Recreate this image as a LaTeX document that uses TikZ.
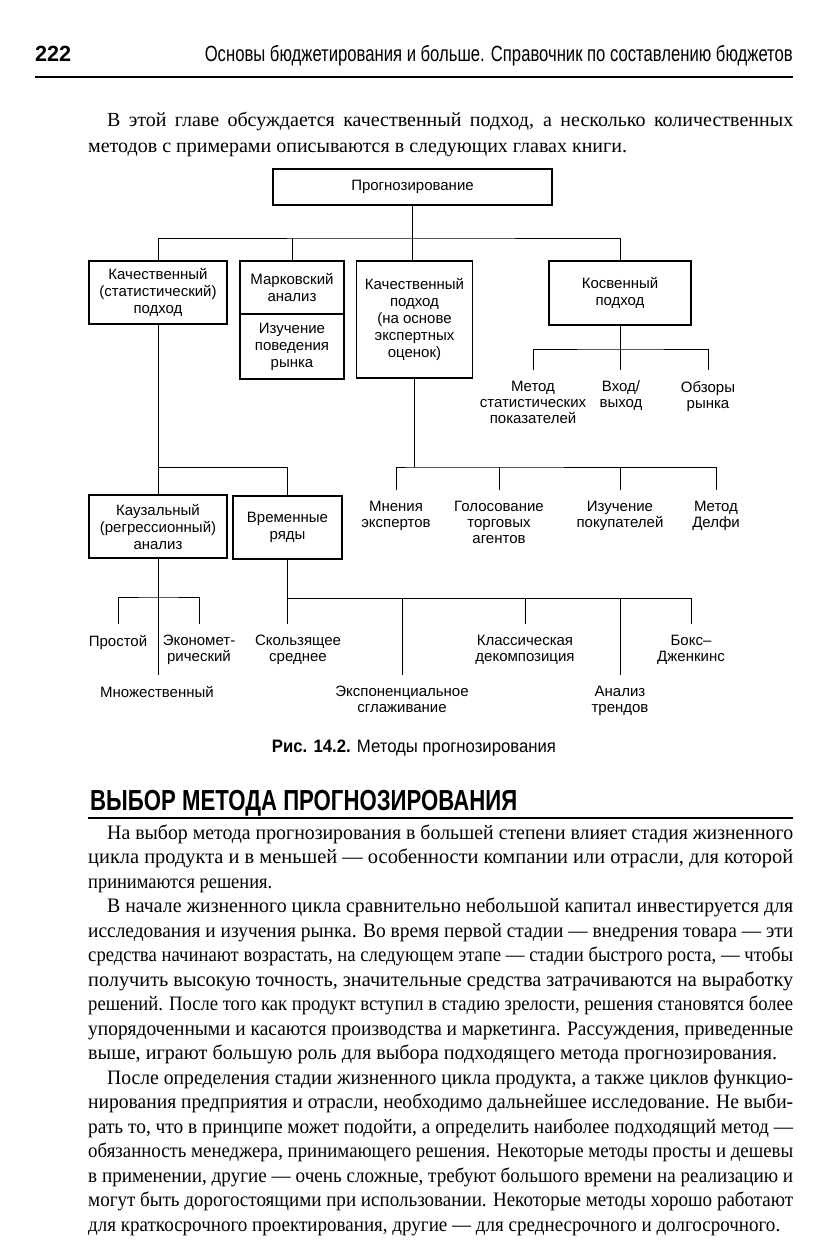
\documentclass[tikz,border=0pt]{standalone}
\usepackage{fontspec}
\usepackage{graphicx}
\setmainfont{Liberation Serif}
\setsansfont{Liberation Sans}
\usetikzlibrary{positioning}

\newcommand{\diagfont}{\sffamily\fontsize{15}{17}\selectfont}
\newcommand{\leaffont}{\sffamily\fontsize{15}{16}\selectfont}
\newcommand{\bodyfont}{\rmfamily\fontsize{20.5}{24}\selectfont}
\newsavebox{\linebox}
\newcommand{\fullline}[2]{\sbox{\linebox}{#2}\ifdim\wd\linebox>#1\relax\resizebox{#1}{\height}{\usebox{\linebox}}\else\makebox[#1][s]{#2}\fi}
\newcommand{\lastline}[2]{\sbox{\linebox}{#2}\ifdim\wd\linebox>#1\relax\resizebox{#1}{\height}{\usebox{\linebox}}\else\usebox{\linebox}\fi}
\newcommand{\squeezeline}[2]{\resizebox{#1}{\height}{#2}}

\begin{document}
\begin{tikzpicture}[
    x=1pt, y=-1pt,
    box/.style={draw, line width=1.1pt, align=center, inner sep=0pt, outer sep=0pt, font=\diagfont},
    leaf/.style={align=center, font=\leaffont, inner sep=0pt, outer ysep=11pt, anchor=north},
    link/.style={line width=1pt},
    txt/.style={anchor=base west, inner sep=0pt, font=\bodyfont}
]
\fill[white] (0,0) rectangle (839,1253);

\node[anchor=base west, inner sep=0pt, font=\sffamily\bfseries\fontsize{22}{22}\selectfont] (pnum) at (35,61) {\resizebox{36pt}{\height}{222}};
\node[anchor=base east, inner sep=0pt, font=\sffamily\fontsize{22}{22}\selectfont] (runhead) at (793,61) {\resizebox{588pt}{\height}{Основы бюджетирования и больше. Справочник по составлению бюджетов}};
\draw[line width=2.2pt] (35,77) -- (793,77);

\node[txt, font=\rmfamily\fontsize{20}{24}\selectfont] (p1a) at (107,126) {\fullline{686pt}{В этой главе обсуждается качественный подход, а несколько количественных}};
\node[txt, font=\rmfamily\fontsize{20}{24}\selectfont] (p1b) at (88,152) {\lastline{705pt}{методов с примерами описываются в следующих главах книги.}};

\node[box, minimum width=279pt, minimum height=36pt] (prog) at (412.5,187) {Прогнозирование};
\node[box, minimum width=138pt, minimum height=63pt] (qual) at (158,292.5) {Качественный\\(статистический)\\подход};
\node[box, minimum width=104pt, minimum height=53pt] (markov) at (292,287.5) {Марковский\\анализ};
\node[box, minimum width=104pt, minimum height=65pt, below=0pt of markov] (market) {Изучение\\поведения\\рынка};
\node[box, minimum width=116pt, minimum height=117pt] (expert) at (414.5,319.5) {Качественный\\подход\\(на основе\\экспертных\\оценок)};
\node[box, minimum width=142pt, minimum height=64pt] (indirect) at (620,293) {Косвенный\\подход};
\node[box, minimum width=138pt, minimum height=63pt] (causal) at (158,526.5) {Каузальный\\(регрессионный)\\анализ};
\node[box, minimum width=109pt, minimum height=63pt] (series) at (287.5,527.5) {Временные\\ряды};

\node[leaf] (stat) at (533,370) {Метод\\статистических\\показателей};
\node[leaf] (inout) at (621,370) {Вход/\\выход};
\node[leaf] (survey) at (708,370) {Обзоры\\рынка};
\node[leaf] (opin) at (396,490) {Мнения\\экспертов};
\node[leaf] (vote) at (499,490) {Голосование\\торговых\\агентов};
\node[leaf] (buyers) at (620,490) {Изучение\\покупателей};
\node[leaf] (delphi) at (716,490) {Метод\\Делфи};
\node[leaf] (simple) at (118,624) {Простой};
\node[leaf] (econ) at (199,624) {Экономет-\\рический};
\node[leaf] (multi) at (157,675) {Множественный};
\node[leaf] (moving) at (298,624) {Скользящее\\среднее};
\node[leaf] (expo) at (402,675) {Экспоненциальное\\сглаживание};
\node[leaf] (decomp) at (525,624) {Классическая\\декомпозиция};
\node[leaf] (trend) at (620,675) {Анализ\\трендов};
\node[leaf] (boxj) at (691,624) {Бокс–\\Дженкинс};

\coordinate (topbus) at (412.5,238);
\coordinate (leftbus) at (158,467);
\coordinate (expbus) at (414.5,467);
\coordinate (indbus) at (620,349);
\coordinate (causbus) at (158,597);
\coordinate (serbus) at (287.5,598);

\draw[link] (prog.south) -- (prog.south |- expert.north);
\draw[link] (qual.north) |- (topbus) -| (indirect.north);
\draw[link] (markov.north) -- (markov.north |- topbus);
\draw[link] (qual.south) -- (causal.north);
\draw[link] (leftbus) -| (series.north);
\draw[link] (expert.south) -- (expbus);
\draw[link] (opin.north) |- (expbus) -| (delphi.north);
\draw[link] (vote.north) -- (vote.north |- expbus);
\draw[link] (buyers.north) -- (buyers.north |- expbus);
\draw[link] (indirect.south) -- (indirect.south |- inout.north);
\draw[link] (stat.north) |- (indbus) -| (survey.north);
\draw[link] (causal.south) -- (causal.south |- multi.north);
\draw[link] (simple.north) |- (causbus) -| (econ.north);
\draw[link] (series.south) -- (series.south |- moving.north);
\draw[link] (serbus) -| (boxj.north);
\draw[link] (expo.north) -- (expo.north |- serbus);
\draw[link] (decomp.north) -- (decomp.north |- serbus);
\draw[link] (trend.north) -- (trend.north |- serbus);

\node[anchor=base, inner sep=0pt, font=\sffamily\fontsize{18}{18}\selectfont] (caption) at (414,752) {\resizebox{284pt}{\height}{\textbf{Рис. 14.2.} Методы прогнозирования}};

\node[anchor=base west, inner sep=0pt, font=\sffamily\bfseries\fontsize{29}{29}\selectfont] (heading) at (90,810) {\resizebox{427pt}{\height}{ВЫБОР МЕТОДА ПРОГНОЗИРОВАНИЯ}};
\draw[line width=1.5pt] (88,818) -- (793,818);

\node[txt] (p2a) at (107,839) {\fullline{686pt}{На выбор метода прогнозирования в большей степени влияет стадия жизненного}};
\node[txt] (p2b) at (88,863.5) {\fullline{705pt}{цикла продукта и в меньшей — особенности компании или отрасли, для которой}};
\node[txt] (p2c) at (88,888) {\squeezeline{184pt}{принимаются решения.}};

\node[txt] (p3a) at (107,912.5) {\fullline{686pt}{В начале жизненного цикла сравнительно небольшой капитал инвестируется для}};
\node[txt] (p3b) at (88,937) {\fullline{705pt}{исследования и изучения рынка. Во время первой стадии — внедрения товара — эти}};
\node[txt] (p3c) at (88,961.5) {\fullline{705pt}{средства начинают возрастать, на следующем этапе — стадии быстрого роста, — чтобы}};
\node[txt] (p3d) at (88,986) {\fullline{705pt}{получить высокую точность, значительные средства затрачиваются на выработку}};
\node[txt] (p3e) at (88,1010.5) {\fullline{705pt}{решений. После того как продукт вступил в стадию зрелости, решения становятся более}};
\node[txt] (p3f) at (88,1035) {\fullline{705pt}{упорядоченными и касаются производства и маркетинга. Рассуждения, приведенные}};
\node[txt] (p3g) at (88,1059.5) {\squeezeline{689pt}{выше, играют большую роль для выбора подходящего метода прогнозирования.}};

\node[txt] (p4a) at (107,1084) {\fullline{686pt}{После определения стадии жизненного цикла продукта, а также циклов функцио-}};
\node[txt] (p4b) at (88,1108.5) {\fullline{705pt}{нирования предприятия и отрасли, необходимо дальнейшее исследование. Не выби-}};
\node[txt] (p4c) at (88,1133) {\fullline{705pt}{рать то, что в принципе может подойти, а определить наиболее подходящий метод —}};
\node[txt] (p4d) at (88,1157.5) {\fullline{705pt}{обязанность менеджера, принимающего решения. Некоторые методы просты и дешевы}};
\node[txt] (p4e) at (88,1182) {\fullline{705pt}{в применении, другие — очень сложные, требуют большого времени на реализацию и}};
\node[txt] (p4f) at (88,1206.5) {\fullline{705pt}{могут быть дорогостоящими при использовании. Некоторые методы хорошо работают}};
\node[txt] (p4g) at (88,1231) {\squeezeline{692pt}{для краткосрочного проектирования, другие — для среднесрочного и долгосрочного.}};
\end{tikzpicture}
\end{document}
